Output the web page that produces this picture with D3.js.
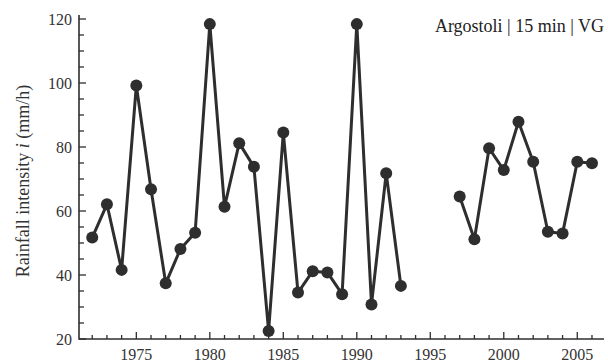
<!DOCTYPE html>
<html lang="en">
<head>
  <meta charset="UTF-8">
  <script src="https://d3js.org/d3.v7.min.js"></script>
  <title>Argostoli rainfall intensity</title>
  <style>
    body { margin: 0; background: #fff; }
    svg { display: block; font-family: "Liberation Serif", "Times New Roman", serif; }
    .tick-label { font-size: 16px; fill: #333; }
  </style>
</head>
<body>
  <svg id="chart" width="608" height="363"></svg>

  <script>
    // annual maximum 15-min rainfall intensity (mm/h), with a gap 1994-1996
    const years1 = [1972, 1973, 1974, 1975, 1976, 1977, 1978, 1979, 1980, 1981, 1982,
                    1983, 1984, 1985, 1986, 1987, 1988, 1989, 1990, 1991, 1992, 1993];
    const values1 = [51.7, 62.1, 41.6, 99.2, 66.8, 37.4, 48.1, 53.2, 118.4, 61.3, 81.2,
                     73.8, 22.5, 84.5, 34.5, 41.2, 40.8, 34.0, 118.4, 30.8, 71.8, 36.6];
    const years2 = [1997, 1998, 1999, 2000, 2001, 2002, 2003, 2004, 2005, 2006];
    const values2 = [64.5, 51.2, 79.6, 72.8, 87.9, 75.4, 53.5, 53.0, 75.4, 74.9];

    const xTicks = [1975, 1980, 1985, 1990, 1995, 2000, 2005];
    const yTicks = [20, 40, 60, 80, 100, 120];

    const ink = "#2e2e2e";
    const svg = d3.select("#chart");

    const x = d3.scaleLinear().domain([1971.1, 2006.75]).range([79, 603]);
    const y = d3.scaleLinear().domain([20, 120]).range([339, 19]);

    // minor ticks first, then major ticks with labels
    const xMinor = d3.range(1972, 2007).filter(v => v % 5 !== 0);
    const yMinor = d3.range(25, 121, 5).filter(v => v % 20 !== 0);

    const gx = svg.append("g").attr("transform", "translate(0,339)");
    gx.selectAll("line.minor").data(xMinor).join("line")
      .attr("x1", d => x(d)).attr("x2", d => x(d))
      .attr("y1", 0).attr("y2", -4)
      .attr("stroke", ink).attr("stroke-width", 1.3);
    gx.selectAll("line.major").data(xTicks).join("line")
      .attr("x1", d => x(d)).attr("x2", d => x(d))
      .attr("y1", 0).attr("y2", -7)
      .attr("stroke", ink).attr("stroke-width", 1.3);
    gx.selectAll("text").data(xTicks).join("text")
      .attr("class", "tick-label")
      .attr("x", d => x(d)).attr("y", 21)
      .attr("text-anchor", "middle")
      .text(d => d);
    gx.append("line")
      .attr("x1", 79).attr("x2", 604)
      .attr("stroke", ink).attr("stroke-width", 1.6);

    const gy = svg.append("g").attr("transform", "translate(79,0)");
    gy.selectAll("line.minor").data(yMinor).join("line")
      .attr("y1", d => y(d)).attr("y2", d => y(d))
      .attr("x1", 0).attr("x2", 5)
      .attr("stroke", ink).attr("stroke-width", 1.3);
    gy.selectAll("line.major").data(yTicks).join("line")
      .attr("y1", d => y(d)).attr("y2", d => y(d))
      .attr("x1", 0).attr("x2", 7)
      .attr("stroke", ink).attr("stroke-width", 1.3);
    gy.selectAll("text").data(yTicks).join("text")
      .attr("class", "tick-label")
      .attr("x", -7).attr("y", d => y(d))
      .attr("dy", "0.35em")
      .attr("text-anchor", "end")
      .text(d => d);
    gy.append("line")
      .attr("y1", 15).attr("y2", 339.8)
      .attr("stroke", ink).attr("stroke-width", 1.6);

    // y axis title
    const yt = svg.append("text")
      .attr("transform", "translate(29,181) rotate(-90)")
      .attr("text-anchor", "middle")
      .attr("font-size", 18)
      .attr("fill", "#333");
    yt.append("tspan").text("Rainfall intensity ");
    yt.append("tspan").attr("font-style", "italic").text("i");
    yt.append("tspan").text(" (mm/h)");

    // station label
    svg.append("text")
      .attr("x", 604).attr("y", 32)
      .attr("text-anchor", "end")
      .attr("font-size", 18)
      .attr("fill", "#222")
      .text("Argostoli | 15 min | VG");

    const line = d3.line().x(d => x(d[0])).y(d => y(d[1]));
    const segments = [d3.zip(years1, values1), d3.zip(years2, values2)];

    svg.selectAll("path.series").data(segments).join("path")
      .attr("class", "series")
      .attr("d", line)
      .attr("fill", "none")
      .attr("stroke", ink)
      .attr("stroke-width", 3)
      .attr("stroke-linejoin", "round");

    svg.selectAll("circle").data(segments.flat()).join("circle")
      .attr("cx", d => x(d[0]))
      .attr("cy", d => y(d[1]))
      .attr("r", 6)
      .attr("fill", ink);
  </script>
</body>
</html>
